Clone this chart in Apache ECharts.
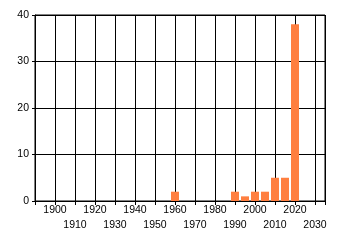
<!DOCTYPE html>
<html>
<head>
<meta charset="utf-8">
<script src="https://cdn.jsdelivr.net/npm/echarts@6/dist/echarts.min.js"></script>
<style>html,body{margin:0;padding:0;background:#fff}#c{width:340px;height:245px}</style>
</head>
<body>
<div id="c"></div>
<script>
var years = [1960, 1990, 1995, 2000, 2005, 2010, 2015, 2020];
var counts = [2, 2, 1, 2, 2, 5, 5, 38];
var xTickLabels = [1900, 1910, 1920, 1930, 1940, 1950, 1960, 1970, 1980, 1990, 2000, 2010, 2020, 2030];
var yTickLabels = [0, 10, 20, 30, 40];

var chart = echarts.init(document.getElementById('c'), null, {renderer: 'canvas'});
var font = {fontFamily: 'Liberation Sans', fontSize: 10.5, color: '#000'};
chart.setOption({
  animation: false,
  grid: {left: 35, right: 15, top: 15, bottom: 44, show: true, borderColor: '#000', borderWidth: 1, backgroundColor: '#fff'},
  xAxis: {
    type: 'value', min: 1890, max: 2035, interval: 10,
    axisLine: {lineStyle: {color: '#000', width: 1}},
    axisTick: {show: true, length: 4, lineStyle: {color: '#000'}},
    axisLabel: Object.assign({
      margin: 2, lineHeight: 15,
      showMinLabel: true, showMaxLabel: true, hideOverlap: false,
      formatter: function (v) {
        var i = xTickLabels.indexOf(v);
        if (i < 0) return '';
        return (i % 2 === 1 ? '\n' : '') + v;
      }
    }, font),
    splitLine: {show: true, lineStyle: {color: '#000', width: 1}}
  },
  yAxis: {
    type: 'value', min: 0, max: 40, interval: 10,
    axisLine: {show: true, lineStyle: {color: '#000', width: 1}},
    axisTick: {show: true, length: 3, lineStyle: {color: '#000'}},
    axisLabel: Object.assign({margin: 6}, font),
    splitLine: {show: true, lineStyle: {color: '#000', width: 1}}
  },
  series: [{
    type: 'bar',
    barWidth: 8,
    itemStyle: {color: '#FF7F40'},
    data: years.map(function (y, i) { return [y, counts[i]]; })
  }]
});
</script>
</body>
</html>
